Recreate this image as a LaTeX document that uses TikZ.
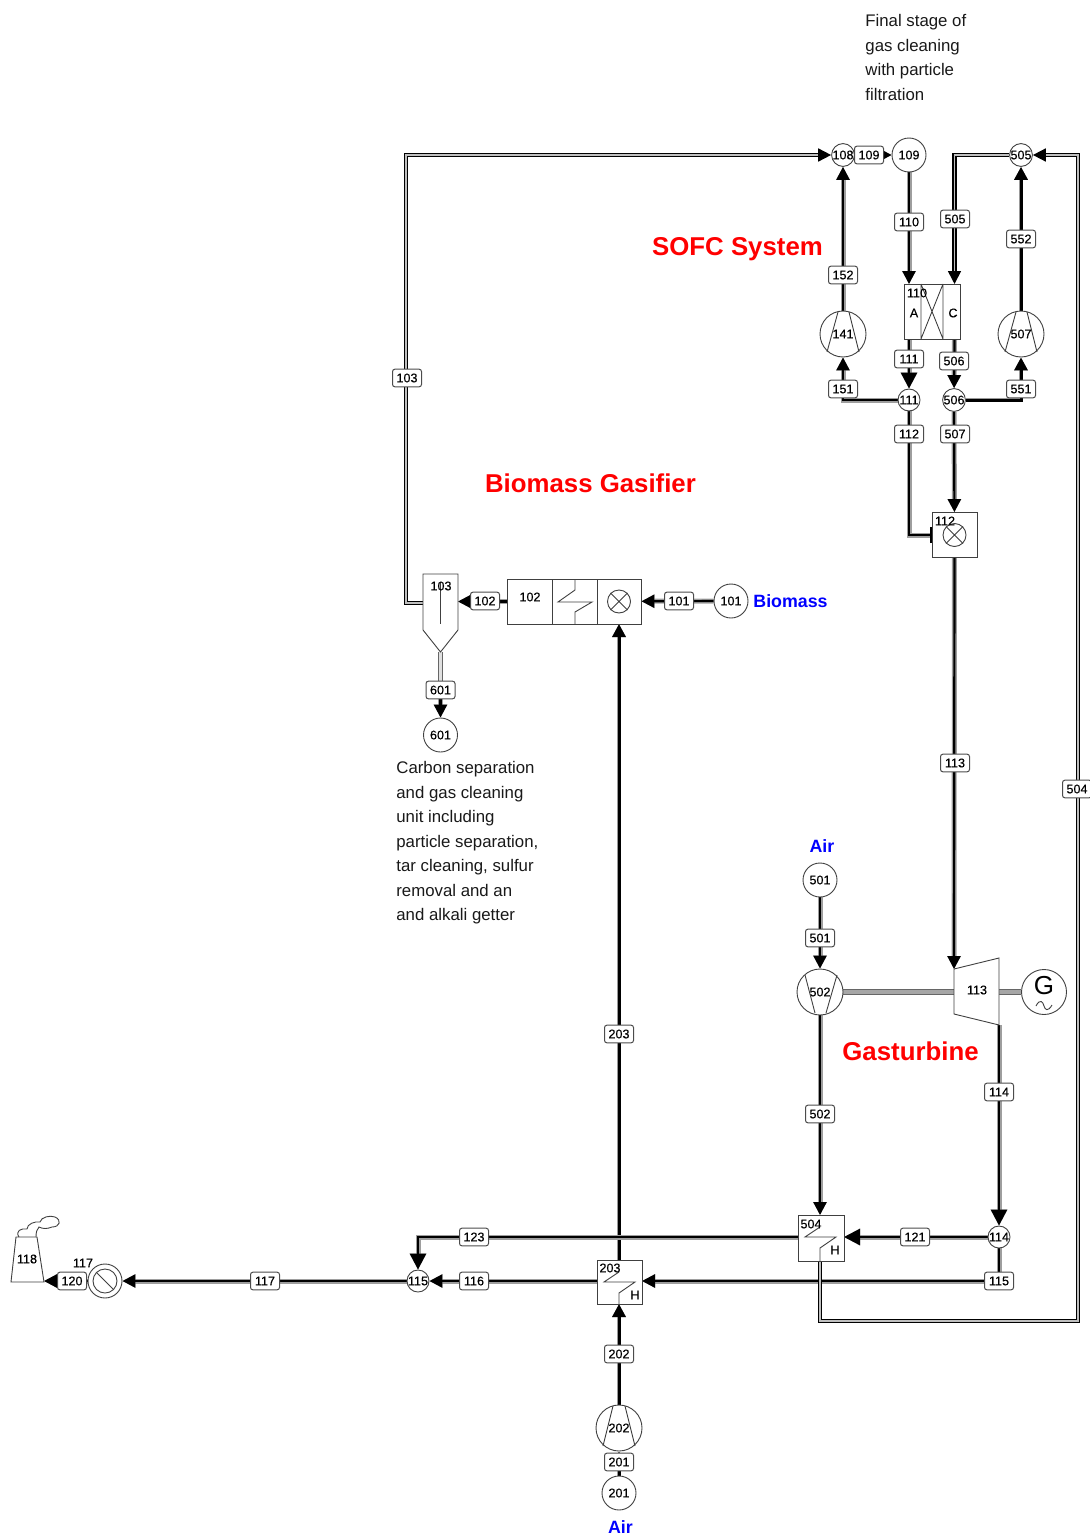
\documentclass[tikz,border=0pt]{standalone}
\usepackage{fontspec}
\setmainfont{Liberation Sans}
\newfontfamily\numfont[FakeBold=0.3]{Liberation Sans}
\usetikzlibrary{arrows.meta,backgrounds}
\tikzset{
 eq/.style={draw=black!75,line width=0.45pt},
 lab/.style={draw=black!70,line width=0.5pt,fill=white,rounded corners=1.2pt,minimum width=14.5pt,minimum height=8.8pt,inner sep=0pt,font=\numfont\fontsize{6.3pt}{7pt}\selectfont},
 num/.style={inner sep=0pt,font=\numfont\fontsize{6.3pt}{7pt}\selectfont},
 circ/.style={eq,circle,fill=white,inner sep=0pt,font=\numfont\fontsize{6.3pt}{7pt}\selectfont},
 bigc/.style={circ,minimum size=17pt},
 junc/.style={circ,minimum size=11pt},
 pumpc/.style={circ,minimum size=23pt},
 xc/.style={circ,minimum size=11.5pt},
 box/.style={eq,fill=white,inner sep=0pt},
 tip/.style={-{Triangle[length=6.5pt,width=6.5pt]}},
 bigtip/.style={-{Triangle[length=8pt,width=8pt]}},
 pipe/.style={draw=black,line width=1.1pt,preaction={draw=black!38,line width=2.5pt}},
 bpipe/.style={draw=black,line width=1.5pt,preaction={draw=black!40,line width=2pt}},
 opipe/.style={draw=black,line width=0.85pt,double=black!25,double distance=0.55pt},
 lpipe/.style={draw=black!60,line width=0.4pt,double=black!12,double distance=1.5pt},
 shaft/.style={draw=black!60,line width=0.35pt,double=black!35,double distance=1.9pt},
 red title/.style={red,font=\fontsize{12.9pt}{15pt}\selectfont\bfseries,inner sep=0pt},
 blue title/.style={blue,font=\fontsize{8.9pt}{11pt}\selectfont\bfseries,inner sep=0pt},
 note/.style={inner sep=0pt,anchor=north west,align=left,font=\fontsize{8.4pt}{12.25pt}\selectfont,text=black!90},
}
\begin{document}
\begin{tikzpicture}[x=0.5pt,y=-0.5pt]
\useasboundingbox (0,0) rectangle (1089,1536);

% ---- SOFC equipment
\node[junc] (n108) at (843,155) {108};
\node[bigc] (n109) at (909,155) {109};
\node[junc] (n505) at (1021,155) {505};
\node[pumpc] (n141) at (843,334) {141};
\node[pumpc] (n507) at (1021,334) {507};
\node[junc] (n111) at (909,400) {111};
\node[junc] (n506) at (954,400) {506};
\draw[eq] (838,312)--(827,352) (849,312)--(859,352);
\draw[eq] (1016,312)--(1005,352) (1027,312)--(1037,352);
\node[box,minimum width=28pt,minimum height=27.5pt] (n110) at (932,311.5) {};
\draw[eq] (921,284)--(921,339) (943,284)--(943,339) (921,339)--(943,284) (921,284)--(943,339);
\node[num] (t110) at (917,293) {110};
\node[num] (tA) at (914,313) {A};
\node[num] (tC) at (953,313) {C};
\coordinate (a110in) at (909,284);
\coordinate (c110in) at (954.5,284);
\coordinate (a110out) at (909,339);
\coordinate (c110out) at (954.5,339);
\node[box,minimum width=22.5pt,minimum height=22.5pt] (n112) at (954.5,535) {};
\node[xc] (x112) at (954.5,535) {};
\draw[eq] (x112.45)--(x112.225) (x112.135)--(x112.315);
\node[num] (t112) at (945,521) {112};

% ---- gasifier
\node[box,minimum width=67pt,minimum height=22.5pt] (n102) at (574,601.5) {};
\draw[eq] (552,579)--(552,624) (597,579)--(597,624);
\draw[eq] (575,579)--(575,590)--(558,602)--(592,602)--(575,612)--(575,624);
\node[xc] (x102) at (619,601.5) {};
\draw[eq] (x102.45)--(x102.225) (x102.135)--(x102.315);
\node[num] (t102) at (530,597) {102};
\coordinate (b102) at (619,624);
\draw[eq,fill=white] (423,574)--(458,574)--(458,630)--(440.5,652)--(423,630)--cycle;
\draw[eq] (440.5,582)--(440.5,624);
\node[num] (t103) at (441,586) {103};
\coordinate (s103l) at (423,603);
\coordinate (s103r) at (458,601.5);
\coordinate (s103b) at (440.5,652);
\node[bigc] (n601) at (440.5,735) {601};
\node[bigc] (n101) at (731,601) {101};

% ---- gas turbine
\node[bigc] (n501) at (820,880) {501};
\node[pumpc] (n502) at (820,992) {502};
\draw[eq] (805,975)--(815,1013) (837,975)--(826,1013);
\draw[eq,fill=white] (954,969)--(999,958)--(999,1025)--(954,1014)--cycle;
\node[num] (t113) at (977,990) {113};
\coordinate (t113in) at (954,969);
\coordinate (t113out) at (999,1025);
\coordinate (t113l) at (954,992);
\coordinate (t113r) at (999,992);
\node[circ,minimum size=22.5pt] (nG) at (1044,992) {};
\node[inner sep=0pt,font=\fontsize{13pt}{14pt}\selectfont] (tG) at (1044,986) {G};
\draw[eq] (1036,1006) .. controls (1040,998) and (1043,1002) .. (1044,1006) .. controls (1045,1010) and (1048,1012) .. (1052,1005);
\node[junc] (n114) at (999,1237) {114};
\node[box,minimum width=23pt,minimum height=23pt] (n504) at (821,1238) {};
\draw[eq] (820,1227)--(805,1237)--(836,1237)--(820,1248)--(820,1261);
\node[num] (t504) at (811,1224) {504};
\node[num] (hH1) at (835,1250) {H};
\coordinate (b504) at (820,1261);
\coordinate (t504in) at (820,1215);
\node[box,minimum width=22.5pt,minimum height=22pt] (n203) at (619.5,1282) {};
\draw[eq] (619,1272)--(604,1282)--(635,1282)--(619,1293)--(619,1304);
\node[num] (t203) at (610,1268) {203};
\node[num] (hH2) at (635,1295) {H};
\coordinate (t203t) at (619,1260);
\coordinate (t203b) at (619,1304);
\node[pumpc] (n202) at (619,1428) {202};
\draw[eq] (613,1406)--(603,1446) (625,1406)--(635,1446);
\node[bigc] (n201) at (619,1493) {201};

% ---- exhaust
\node[junc] (n115) at (418,1281) {115};
\node[circ,minimum size=17pt] (n117) at (105,1281) {};
\node[circ,minimum size=12pt] (i117) at (105,1281) {};
\draw[eq] (i117.135)--(i117.315);
\node[num] (t117) at (83,1263) {117};
\draw[eq,fill=white] (16,1237)--(37,1237)--(44,1282)--(11,1282)--cycle;
\draw[eq] (19,1237) .. controls (15,1231) and (21,1228) .. (27,1229) .. controls (27,1224) and (35,1221) .. (40,1222) .. controls (41,1217) and (50,1215) .. (55,1217) .. controls (62,1220) and (60,1227) .. (52,1227) .. controls (47,1229) and (43,1229) .. (39,1227) .. controls (37,1229) and (36,1232) .. (36,1237);
\node[num] (t118) at (27,1259) {118};
\coordinate (s118) at (44,1281);

% ---- stream labels
\foreach \nm/\tx/\xx/\yy in {l109/109/869/155,l110/110/909/222,l505/505/955/219,l552/552/1021/239,l152/152/843/275,l111/111/909/359,l506/506/954/361,l151/151/843/389,l551/551/1021/389,l112/112/909/434,l507/507/955/434,l103/103/407/378,l113/113/955/763,l504/504/1077/789,l203/203/619/1034,l501/501/820/938,l502/502/820/1114,l114/114/999/1092,l121/121/915/1237,l115/115/999/1281,l123/123/474/1237,l116/116/474/1281,l117/117/265/1281,l120/120/72/1281,l202/202/619/1354,l201/201/619/1462,l101/101/679/601,l102/102/485/601,l601/601/440.5/690}
 {\node[lab] (\nm) at (\xx,\yy) {\tx};}

% ---- routing corners
\coordinate (c103) at (406,155);
\coordinate (c504a) at (820,1321);
\coordinate (c504b) at (1078,1321);
\coordinate (c504c) at (1078,155);
\coordinate (c112) at (932,535);
\coordinate (c115) at (642,1281);
\coordinate (e504) at (844,1237);
\coordinate (w504) at (798,1237);
\coordinate (w203) at (597,1281);

% ---- connectors
\begin{pgfonlayer}{background}
\draw[shaft] (n502) -- (t113l);
\draw[shaft] (t113r) -- (nG);
\draw[opipe,tip] (s103l) -| (c103) -- (n108);
\draw[pipe,tip] (n108) -- (n109);
\draw[pipe,tip] (n109) -- (a110in);
\draw[opipe,tip] (n505) -| (c110in);
\draw[pipe,tip] (n141) -- (n108);
\draw[bpipe,tip] (n507) -- (n505);
\draw[pipe,bigtip] (a110out) -- (n111);
\draw[pipe,tip] (c110out) -- (n506);
\draw[pipe,tip] (n111) -| (n141);
\draw[bpipe,tip] (n506) -| (n507);
\draw[pipe,-{Bar[width=8pt,line width=1.2pt]}] (n111) |- (c112);
\draw[pipe,tip] (n506) -- (n112);
\draw[pipe,tip] (n112) -- (t113in);
\draw[pipe,bigtip] (t113out) -- (n114);
\draw[pipe,tip] (n101) -- (n102);
\draw[pipe,tip] (n102) -- (s103r);
\draw[lpipe] (s103b) -- (l601);
\draw[pipe,tip] (l601) -- (n601);
\draw[bpipe,tip] (t203t) -- (b102);
\draw[pipe,tip] (n501) -- (n502);
\draw[pipe,tip] (n502) -- (t504in);
\draw[pipe,bigtip] (n114) -- (e504);
\draw[pipe,tip] (n114) |- (c115);
\draw[pipe,tip] (w203) -- (n115);
\draw[pipe,bigtip] (w504) -| (n115);
\draw[pipe,tip] (n115) -- (n117);
\draw[pipe,tip] (n117) -- (s118);
\draw[bpipe,tip] (n202) -- (t203b);
\draw[bpipe,tip] (n201) -- (n202);
\draw[opipe,tip] (b504) -- (c504a) -- (c504b) -- (c504c) -- (n505);
\end{pgfonlayer}

% ---- titles and notes
\node[red title] (tSOFC) at (737.5,249) {SOFC System};
\node[red title] (tBG) at (590.5,483) {Biomass Gasifier};
\node[red title] (tGT) at (910.5,1051) {Gasturbine};
\node[blue title] (tBio) at (790.5,601) {Biomass};
\node[blue title] (tAir1) at (822,846) {Air};
\node[blue title] (tAir2) at (620.5,1527) {Air};
\node[note] (nFinal) at (865,14) {Final stage of\\gas cleaning\\with particle\\filtration};
\node[note] (nCarbon) at (396,761) {Carbon separation\\and gas cleaning\\unit including\\particle separation,\\tar cleaning, sulfur\\removal and an\\and alkali getter};
\end{tikzpicture}
\end{document}
